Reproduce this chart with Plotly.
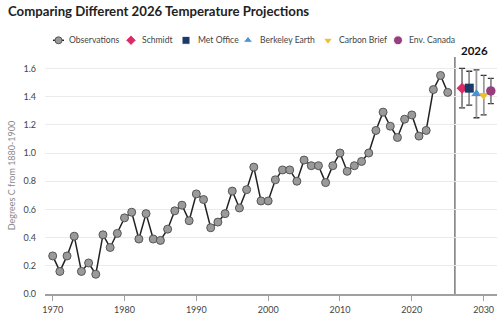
import plotly.graph_objects as go

# ---------------- data ----------------
years = list(range(1970, 2026))
observations = [0.27, 0.16, 0.27, 0.41, 0.16, 0.22, 0.14, 0.42, 0.33, 0.43,
                0.54, 0.58, 0.39, 0.57, 0.39, 0.38, 0.46, 0.59, 0.63, 0.52,
                0.71, 0.67, 0.47, 0.51, 0.57, 0.73, 0.61, 0.74, 0.90, 0.66,
                0.66, 0.81, 0.88, 0.88, 0.80, 0.95, 0.91, 0.91, 0.79, 0.91,
                1.00, 0.87, 0.91, 0.94, 1.00, 1.16, 1.29, 1.19, 1.11, 1.24,
                1.27, 1.12, 1.16, 1.45, 1.55, 1.43]

proj_names = ["Schmidt", "Met Office", "Berkeley Earth", "Carbon Brief", "Env. Canada"]
proj_years = [2027, 2028, 2029, 2030, 2031]
proj_values = [1.46, 1.46, 1.42, 1.41, 1.44]
proj_errors = [0.14, 0.12, 0.17, 0.14, 0.09]

x_ticks = [1970, 1980, 1990, 2000, 2010, 2020, 2030]
y_ticks = [0.0, 0.2, 0.4, 0.6, 0.8, 1.0, 1.2, 1.4, 1.6]
y_tick_labels = ["0.0", "0.2", "0.4", "0.6", "0.8", "1.0", "1.2", "1.4", "1.6"]

# ---------------- styles ----------------
proj_colors = ["#dc2c66", "#1b3a68", "#4b8fd4", "#efc02c", "#963f7f"]
proj_symbols = ["diamond", "square", "triangle-up", "triangle-down", "circle"]
proj_sizes = [8.5, 9, 9, 9, 9.5]
FONT = "Lato"

fig = go.Figure()

# observations
fig.add_trace(go.Scatter(
    x=years, y=observations, mode="lines+markers", name="Observations",
    line=dict(color="#222222", width=1.5),
    marker=dict(color="#9a9a9a", size=8, line=dict(color="#555555", width=1)),
    showlegend=False,
))

# projection error bars: dark caps layer, grey stem layer, then markers on top
fig.add_trace(go.Scatter(
    x=proj_years, y=proj_values, mode="markers",
    marker=dict(color="rgba(0,0,0,0)", size=1),
    error_y=dict(type="data", array=proj_errors, color="#333333", thickness=1.3, width=3),
    showlegend=False, hoverinfo="skip",
))
fig.add_trace(go.Scatter(
    x=proj_years, y=proj_values, mode="markers",
    marker=dict(color="rgba(0,0,0,0)", size=1),
    error_y=dict(type="data", array=proj_errors, color="#9a9a9a", thickness=1.3, width=0),
    showlegend=False, hoverinfo="skip",
))
fig.add_trace(go.Scatter(
    x=proj_years, y=proj_values, mode="markers",
    marker=dict(color=proj_colors, symbol=proj_symbols, size=proj_sizes,
                line=dict(width=0), opacity=1),
    text=proj_names, showlegend=False,
))

# ---------------- manual legend (in its own overlay axes) ----------------
leg_y = -40.3
leg_items = [
    # (symbol x, text x)
    (58.5, 67),
    (131, 140),
    (186, 195.5),
    (248, 257.5),
    (328, 336.5),
    (398, 406.5),
]
fig.add_trace(go.Scatter(
    x=[leg_items[0][0] - 5.5, leg_items[0][0] + 5.5], y=[leg_y, leg_y], mode="lines",
    line=dict(color="#222222", width=1.5), xaxis="x2", yaxis="y2",
    showlegend=False, hoverinfo="skip",
))
fig.add_trace(go.Scatter(
    x=[leg_items[0][0]], y=[leg_y], mode="markers",
    marker=dict(color="#9a9a9a", size=7, line=dict(color="#555555", width=1)),
    xaxis="x2", yaxis="y2", showlegend=False, hoverinfo="skip",
))
fig.add_trace(go.Scatter(
    x=[p[0] for p in leg_items[1:]], y=[leg_y] * 5, mode="markers",
    marker=dict(color=proj_colors, symbol=proj_symbols, size=[8, 8, 8, 8, 9],
                opacity=1),
    xaxis="x2", yaxis="y2", showlegend=False, hoverinfo="skip",
))
leg_labels = ["Observations"] + proj_names
annotations = []
for (sx, tx), lab in zip(leg_items, leg_labels):
    annotations.append(dict(
        x=tx, y=leg_y, xref="x2", yref="y2", text=lab, showarrow=False,
        xanchor="left", yanchor="middle",
        font=dict(family=FONT, size=8.6, color="#444444"),
    ))

W, H = 500, 320
m_l, m_r, m_t, m_b = 45, 3, 20, 26
paper_h = H - m_t - m_b
plot_top_px = 57
main_top = (H - m_b - plot_top_px) / paper_h
leg_dom0 = 0.88
leg_bottom_px = (H - m_b) - leg_dom0 * paper_h

annotations.append(dict(
    x=2028.75, y=main_top, xref="x", yref="paper", text="<b>2026</b>", showarrow=False,
    xanchor="center", yanchor="bottom", yshift=-2,
    font=dict(family=FONT, size=11.5, color="#111111"),
))

# vertical separator at 2026
shapes = [dict(
    type="line", x0=2026, x1=2026, y0=0, y1=main_top, xref="x", yref="paper",
    line=dict(color="#666666", width=1.3), layer="below",
)]

fig.update_layout(
    width=W, height=H,
    margin=dict(l=m_l, r=m_r, t=m_t, b=m_b),
    paper_bgcolor="white", plot_bgcolor="white",
    font=dict(family=FONT, color="#444444"),
    title=dict(
        text="<b>Comparing Different 2026 Temperature Projections</b>",
        x=8 / W, xref="container", xanchor="left",
        y=1 - 11.5 / H, yref="container", yanchor="middle",
        font=dict(family=FONT, size=13.2, color="#222222"),
    ),
    xaxis=dict(
        range=[1968.93, 2031.86], tickvals=x_ticks,
        ticktext=[str(t) for t in x_ticks],
        showgrid=False, zeroline=False,
        showline=True, linecolor="#a0a0a0", linewidth=2,
        ticks="outside", ticklen=5, tickwidth=1, tickcolor="#a0a0a0",
        tickfont=dict(family=FONT, size=9, color="#444444"),
        ticklabelstandoff=1,
        domain=[0, 1],
    ),
    yaxis=dict(
        range=[0, 1.681], tickvals=y_ticks, ticktext=y_tick_labels,
        showgrid=True, gridcolor="#ebebeb", gridwidth=1,
        zeroline=False, showline=False, ticks="",
        tickfont=dict(family=FONT, size=9, color="#444444"),
        ticklabelstandoff=8,
        title=dict(text="Degrees C from 1880-1900",
                   font=dict(family=FONT, size=9, color="#888888"), standoff=6),
        domain=[0, main_top],
    ),
    xaxis2=dict(range=[m_l, W - m_r], domain=[0, 1], visible=False,
                anchor="y2", fixedrange=True),
    yaxis2=dict(range=[-leg_bottom_px, -m_t], domain=[leg_dom0, 1], visible=False,
                anchor="x2", fixedrange=True),
    showlegend=False,
    annotations=annotations,
    shapes=shapes,
)

fig.write_html("out.html")
